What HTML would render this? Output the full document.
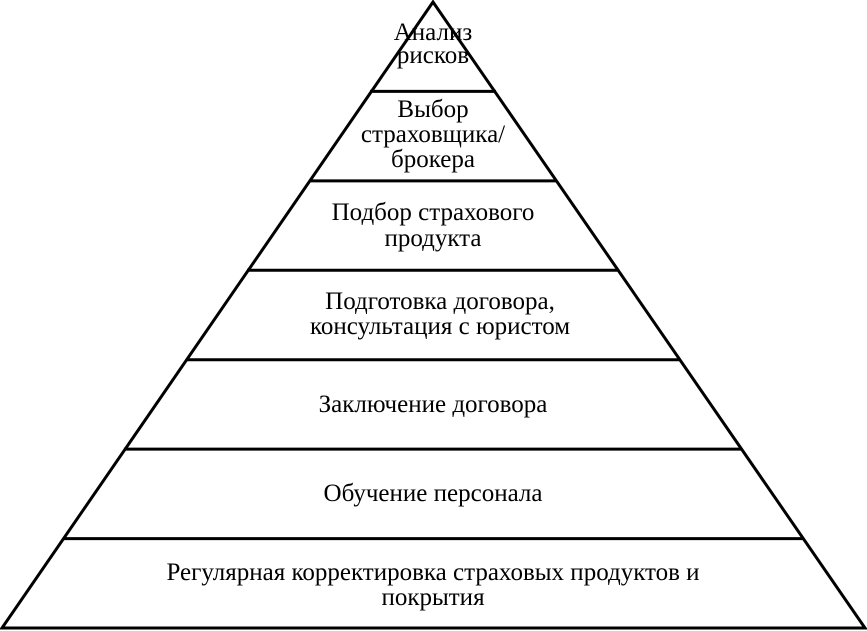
<!DOCTYPE html>
<html><head><meta charset="utf-8"><style>
html,body{margin:0;padding:0;background:#fff;width:867px;height:631px;overflow:hidden}
text{font-family:"Liberation Serif","DejaVu Serif",serif;font-size:25px;fill:#000}
</style></head><body>
<svg width="867" height="631" viewBox="0 0 867 631" xmlns="http://www.w3.org/2000/svg">
<g stroke="#000" stroke-width="3" fill="none">
<polygon points="433,2 2,628 865,628" stroke-linejoin="miter"/>
<line x1="370" y1="91.4" x2="496" y2="91.4"/>
<line x1="309" y1="180.9" x2="557" y2="180.9"/>
<line x1="247" y1="270.3" x2="619" y2="270.3"/>
<line x1="186" y1="359.7" x2="680" y2="359.7"/>
<line x1="124" y1="449.1" x2="742" y2="449.1"/>
<line x1="63" y1="538.6" x2="803" y2="538.6"/>
</g>
<g text-anchor="middle">
<text x="433" y="40">Анализ</text>
<text x="433" y="63">рисков</text>
<text x="433" y="117">Выбор</text>
<text x="433" y="142">страховщика/</text>
<text x="433" y="167">брокера</text>
<text x="433" y="220">Подбор страхового</text>
<text x="433" y="246">продукта</text>
<text x="440" y="309">Подготовка договора,</text>
<text x="440" y="334">консультация с юристом</text>
<text x="433" y="412">Заключение договора</text>
<text x="433" y="501">Обучение персонала</text>
<text x="433" y="580">Регулярная корректировка страховых продуктов и</text>
<text x="433" y="605">покрытия</text>
</g>
</svg>
</body></html>
